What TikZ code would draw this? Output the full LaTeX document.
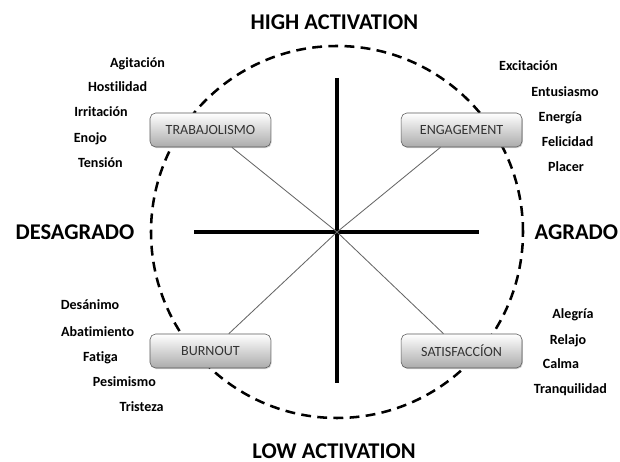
\documentclass[tikz,border=0pt]{standalone}
\usepackage{fontspec}
\setmainfont{Carlito}[Ligatures=NoCommon]
\usetikzlibrary{shadows}
\begin{document}
\begin{tikzpicture}[
  quad/.style={draw=black!65, rounded corners=4pt, minimum width=3.02cm, minimum height=0.85cm,
    top color=white, bottom color=black!33, font=\fontsize{10}{12}\selectfont, text=black!80,
    drop shadow={opacity=0.35, shadow xshift=0.6pt, shadow yshift=-0.8pt}},
  word/.style={font=\fontsize{10}{12}\selectfont\bfseries, text height=1.6ex, text depth=0.3ex, inner sep=0pt},
  title/.style={font=\fontsize{16}{19}\selectfont\bfseries, inner sep=0pt},
  axis/.style={line width=2.8pt},
  diag/.style={black!60, line width=0.6pt},
]
\useasboundingbox (0,0) rectangle (15.5,11.55);
% Titles
\node[title] (high) at (8.36, 11.0) {HIGH ACTIVATION};
\node[title] (low) at (8.35, 0.27) {LOW ACTIVATION};
\node[title] (desag) at (1.875, 5.75) {DESAGRADO};
\node[title] (agr) at (14.41, 5.75) {AGRADO};
% Circle and axes
\coordinate (o) at (8.425, 5.75);
\draw[dashed, line width=1.8pt, dash pattern=on 7pt off 4.5pt] (o) circle (4.65);
\coordinate (ax_t) at (8.425, 9.6);
\coordinate (ax_b) at (8.425, 1.975);
\coordinate (ax_l) at (4.85, 5.75);
\coordinate (ax_r) at (11.975, 5.75);
\draw[axis] (ax_t) -- (ax_b);
\draw[axis] (ax_l) -- (ax_r);
% Quadrants
\node[quad] (trab) at (5.26, 8.3) {TRABAJOLISMO};
\node[quad] (eng) at (11.54, 8.3) {ENGAGEMENT};
\node[quad] (burn) at (5.26, 2.775) {BURNOUT};
\node[quad] (sat) at (11.54, 2.775) {SATISFACCÍON};
\draw[diag] (o) -- (trab);
\draw[diag] (o) -- (eng);
\draw[diag] (o) -- (burn);
\draw[diag] (o) -- (sat);
% Trabajolismo words
\node[word] (w_agit) at (3.44, 9.975) {Agitación};
\node[word] (w_host) at (2.94, 9.375) {Hostilidad};
\node[word] (w_irri) at (2.525, 8.75) {Irritación};
\node[word] (w_enoj) at (2.26, 8.1) {Enojo};
\node[word] (w_tens) at (2.51, 7.475) {Tensión};
% Engagement words
\node[word] (w_exci) at (13.21, 9.9) {Excitación};
\node[word] (w_entu) at (14.125, 9.25) {Entusiasmo};
\node[word] (w_ener) at (14.01, 8.625) {Energía};
\node[word] (w_feli) at (14.19, 8.0) {Felicidad};
\node[word] (w_plac) at (14.15, 7.375) {Placer};
% Burnout words
\node[word] (w_desa) at (2.25, 3.925) {Desánimo};
\node[word] (w_abat) at (2.44, 3.25) {Abatimiento};
\node[word] (w_fati) at (2.51, 2.625) {Fatiga};
\node[word] (w_pesi) at (3.11, 2.0) {Pesimismo};
\node[word] (w_tris) at (3.54, 1.375) {Tristeza};
% Satisfaccion words
\node[word] (w_aleg) at (14.325, 3.7) {Alegría};
\node[word] (w_rela) at (14.2, 3.05) {Relajo};
\node[word] (w_calm) at (14.025, 2.45) {Calma};
\node[word] (w_tran) at (14.26, 1.825) {Tranquilidad};
\end{tikzpicture}
\end{document}
